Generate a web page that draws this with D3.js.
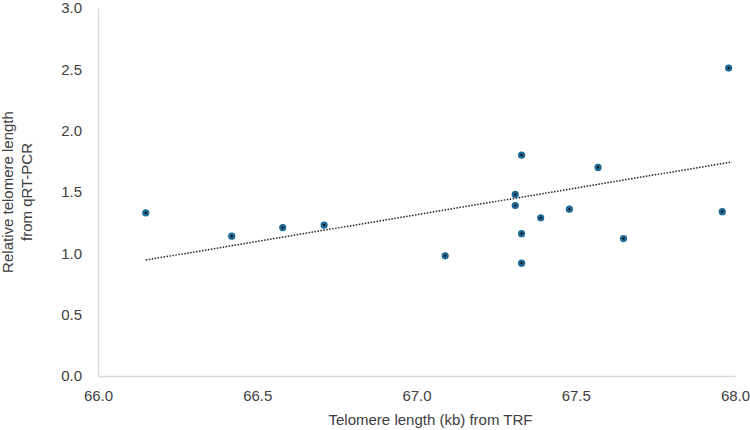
<!DOCTYPE html>
<html>
<head>
<meta charset="utf-8">
<script src="https://cdn.jsdelivr.net/npm/d3@7"></script>
<style>
  body { margin: 0; background: #fff; }
  .tick text { font-family: "Liberation Sans", Arial, sans-serif; font-size: 15px; fill: #404040; }
  .axis-title { font-family: "Liberation Sans", Arial, sans-serif; font-size: 15px; fill: #404040; }
</style>
</head>
<body>
<div id="chart"></div>
<script>
// telomere length from TRF (kb) vs relative length from qRT-PCR
var trfLength = [66.15, 66.42, 66.58, 66.71, 67.09, 67.31, 67.31, 67.33, 67.33, 67.33,
                 67.39, 67.48, 67.57, 67.65, 67.96, 67.98];
var pcrLength = [1.33, 1.14, 1.21, 1.23, 0.98, 1.48, 1.39, 1.80, 1.16, 0.92,
                 1.29, 1.36, 1.70, 1.12, 1.34, 2.51];
// trendline ends as drawn in the source chart
var trendX = [66.15, 67.99];
var trendY = [0.945, 1.745];
var xTicks = [66.0, 66.5, 67.0, 67.5, 68.0];
var yTicks = [0.0, 0.5, 1.0, 1.5, 2.0, 2.5, 3.0];

var width = 750, height = 430;
var margin = { top: 8, right: 15, bottom: 54, left: 98 };
var w = width - margin.left - margin.right;
var h = height - margin.top - margin.bottom;

var points = trfLength.map(function(d, i) { return { x: d, y: pcrLength[i] }; });

var x = d3.scaleLinear().domain([66, 68]).range([0, w]);
var y = d3.scaleLinear().domain([0, 3]).range([h, 0]);

var svg = d3.select('#chart')
  .append('svg')
  .attr('width', width)
  .attr('height', height)
  .append('g')
  .attr('transform', 'translate(' + margin.left + ',' + margin.top + ')');

// axes: light gray lines, no tick marks
var xAxis = d3.axisBottom(x).tickValues(xTicks).tickFormat(d3.format('.1f')).tickSize(0).tickPadding(14);
var gx = svg.append('g')
  .attr('transform', 'translate(0,' + h + ')')
  .call(xAxis);
gx.select('.domain').attr('stroke', '#d9d9d9').attr('stroke-width', 1.5);

var yAxis = d3.axisLeft(y).tickValues(yTicks).tickFormat(d3.format('.1f')).tickSize(0).tickPadding(16);
var gy = svg.append('g').call(yAxis);
gy.select('.domain').attr('stroke', '#d9d9d9').attr('stroke-width', 1.5);

// linear trendline
svg.append('line')
  .attr('x1', x(trendX[0]))
  .attr('y1', y(trendY[0]))
  .attr('x2', x(trendX[1]))
  .attr('y2', y(trendY[1]))
  .attr('stroke', '#222')
  .attr('stroke-width', 1.5)
  .attr('stroke-dasharray', '1.5,1.5');

// markers
svg.selectAll('.dot')
  .data(points)
  .enter()
  .append('circle')
  .attr('class', 'dot')
  .attr('cx', function(d) { return x(d.x); })
  .attr('cy', function(d) { return y(d.y); })
  .attr('r', 3.6)
  .attr('fill', '#1d6894');

svg.selectAll('.dot-center')
  .data(points)
  .enter()
  .append('circle')
  .attr('class', 'dot-center')
  .attr('cx', function(d) { return x(d.x); })
  .attr('cy', function(d) { return y(d.y); })
  .attr('r', 1.1)
  .attr('fill', '#000');

// axis titles
svg.append('text')
  .attr('class', 'axis-title')
  .attr('x', w / 2 + 14)
  .attr('y', h + 49)
  .attr('text-anchor', 'middle')
  .text('Telomere length (kb) from TRF');

var yt = svg.append('text')
  .attr('class', 'axis-title')
  .attr('transform', 'translate(' + (-margin.left + 13) + ',' + (h / 2) + ') rotate(-90)')
  .attr('text-anchor', 'middle');
yt.append('tspan').attr('x', 0).attr('dy', 0).text('Relative telomere length');
yt.append('tspan').attr('x', 0).attr('dy', 19).text('from qRT-PCR');
</script>
</body>
</html>
